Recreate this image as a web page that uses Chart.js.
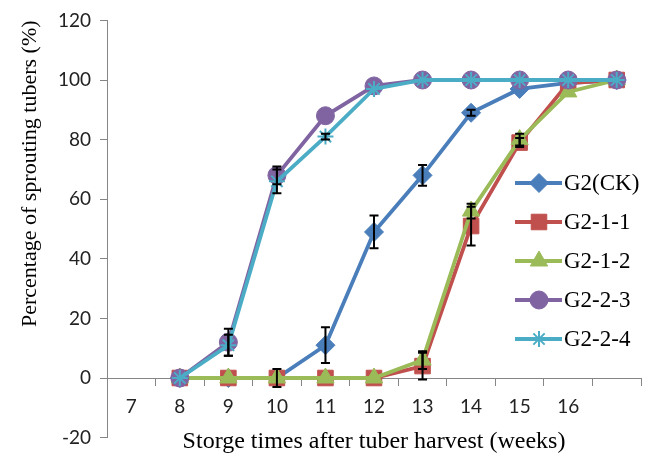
<!DOCTYPE html>
<html>
<head>
<meta charset="utf-8">
<script src="https://cdn.jsdelivr.net/npm/chart.js@4/dist/chart.umd.min.js"></script>
<style>
  html, body { margin: 0; padding: 0; background: #fff; }
  #wrap { width: 654px; height: 458px; }
</style>
</head>
<body>
<div id="wrap"><canvas id="chart" width="654" height="458"></canvas></div>
<script>
// weeks after harvest (last column has no label in the original)
var weeks = ['7', '8', '9', '10', '11', '12', '13', '14', '15', '16', ''];
var yTicks = [-20, 0, 20, 40, 60, 80, 100, 120];

var seriesNames = ['G2(CK)', 'G2-1-1', 'G2-1-2', 'G2-2-3', 'G2-2-4'];
var ck   = [null, 0, 0, 0, 11, 49, 68, 89, 97, 99, 100];
var g211 = [null, 0, 0, 0, 0, 0, 4, 51, 79, 99, 100];
var g212 = [null, 0, 0, 0, 0, 0, 6, 56, 80, 96, 100];
var g223 = [null, 0, 12, 68, 88, 98, 100, 100, 100, 100, 100];
var g224 = [null, 0, 11, 66, 81, 97, 100, 100, 100, 100, 100];

// +/- error values
var ckErr   = [0, 0, 0, 3, 6, 5.5, 3.5, 1, 0, 0, 0];
var g211Err = [0, 0, 0, 0, 0, 0, 4.5, 6.5, 1.5, 0, 0];
var g212Err = [0, 0, 0, 0, 0, 0, 3, 2.5, 2, 0, 0];
var g223Err = [0, 0, 4.5, 3, 0, 0, 0, 0, 0, 0, 0];
var g224Err = [0, 0, 3.5, 4, 1, 0, 0, 0, 0, 0, 0];

var colors = ['#4A7EBB', '#C0504D', '#9BBB59', '#8064A2', '#4BACC6'];
var styles = ['rectRot', 'rect', 'triangle', 'circle', 'star'];
var radii = [9.5, 11, 10, 9, 8];

var allData = [ck, g211, g212, g223, g224];
var allErr = [ckErr, g211Err, g212Err, g223Err, g224Err];

var datasets = allData.map(function (d, i) {
  return {
    label: seriesNames[i],
    data: d,
    borderColor: colors[i],
    backgroundColor: colors[i],
    pointBackgroundColor: colors[i],
    pointBorderColor: colors[i],
    pointStyle: styles[i],
    pointRadius: radii[i],
    pointBorderWidth: styles[i] == 'star' ? 2 : 1,
    borderWidth: 3.8,
    tension: 0,
    order: 4 - i,
    errors: allErr[i]
  };
});

var errorBars = {
  id: 'errorBars',
  afterDatasetsDraw: function (chart) {
    var ctx = chart.ctx;
    var xs = chart.scales.x, ys = chart.scales.y;
    ctx.save();
    ctx.strokeStyle = '#000';
    ctx.lineWidth = 2;
    chart.data.datasets.forEach(function (ds) {
      ds.data.forEach(function (v, j) {
        var e = ds.errors[j];
        if (v == null || !e) return;
        var x = xs.getPixelForValue(j);
        var top = ys.getPixelForValue(v + e);
        var bot = ys.getPixelForValue(v - e);
        ctx.beginPath();
        ctx.moveTo(x, top); ctx.lineTo(x, bot);
        ctx.moveTo(x - 4.5, top); ctx.lineTo(x + 4.5, top);
        ctx.moveTo(x - 4.5, bot); ctx.lineTo(x + 4.5, bot);
        ctx.stroke();
      });
    });
    ctx.restore();
  }
};

// legend drawn as line + marker, like the original
var lineLegend = {
  id: 'lineLegend',
  afterDraw: function (chart) {
    var ctx = chart.ctx;
    ctx.save();
    ctx.font = '23px "Liberation Serif"';
    ctx.textBaseline = 'middle';
    chart.data.datasets.forEach(function (ds, i) {
      var y = 183 + i * 39;
      ctx.strokeStyle = ds.borderColor;
      ctx.lineWidth = 3.8;
      ctx.beginPath();
      ctx.moveTo(515, y); ctx.lineTo(562, y);
      ctx.stroke();
      ctx.fillStyle = ds.backgroundColor;
      ctx.lineWidth = ds.pointBorderWidth;
      Chart.helpers.drawPoint(ctx, {
        pointStyle: ds.pointStyle, radius: ds.pointRadius, rotation: 0, borderWidth: ds.pointBorderWidth
      }, 539, y);
      ctx.fillStyle = '#000';
      ctx.textAlign = 'left';
      ctx.fillText(ds.label, 564, y + 1);
    });
    ctx.restore();
  }
};

new Chart(document.getElementById('chart'), {
  type: 'line',
  data: { labels: weeks, datasets: datasets },
  plugins: [errorBars, lineLegend],
  options: {
    responsive: false,
    animation: false,
    layout: { padding: { top: 8, right: 13, left: 7, bottom: 8 } },
    plugins: { legend: { display: false }, tooltip: { enabled: false } },
    scales: {
      x: {
        type: 'category',
        offset: true,
        position: { y: 0 },
        grid: { offset: true, drawOnChartArea: false, drawTicks: true, tickLength: 7, color: '#868686', lineWidth: 1 },
        border: { display: true, color: '#868686', width: 1 },
        ticks: { color: '#222', font: { family: 'Lato', size: 19 }, padding: 10, maxRotation: 0, autoSkip: false },
        title: { display: true, text: 'Storge times after tuber harvest (weeks)', color: '#000', align: 'center',
                 font: { family: 'Liberation Serif', size: 24 }, padding: { top: 0, bottom: -2 } }
      },
      y: {
        min: -20, max: 120,
        afterBuildTicks: function (s) { s.ticks = yTicks.map(function (v) { return { value: v }; }); },
        afterFit: function (s) { s.width = 100; },
        grid: { drawOnChartArea: false, drawTicks: true, tickLength: 7, color: '#868686' },
        border: { display: true, color: '#868686', width: 1 },
        ticks: { color: '#222', font: { family: 'Lato', size: 19 }, padding: 9 },
        title: { display: true, text: 'Percentage of sprouting tubers (%)', color: '#000', align: 'end',
                 font: { family: 'Liberation Serif', size: 22 }, padding: { top: 10, bottom: 0 } }
      }
    }
  }
});
</script>
</body>
</html>
